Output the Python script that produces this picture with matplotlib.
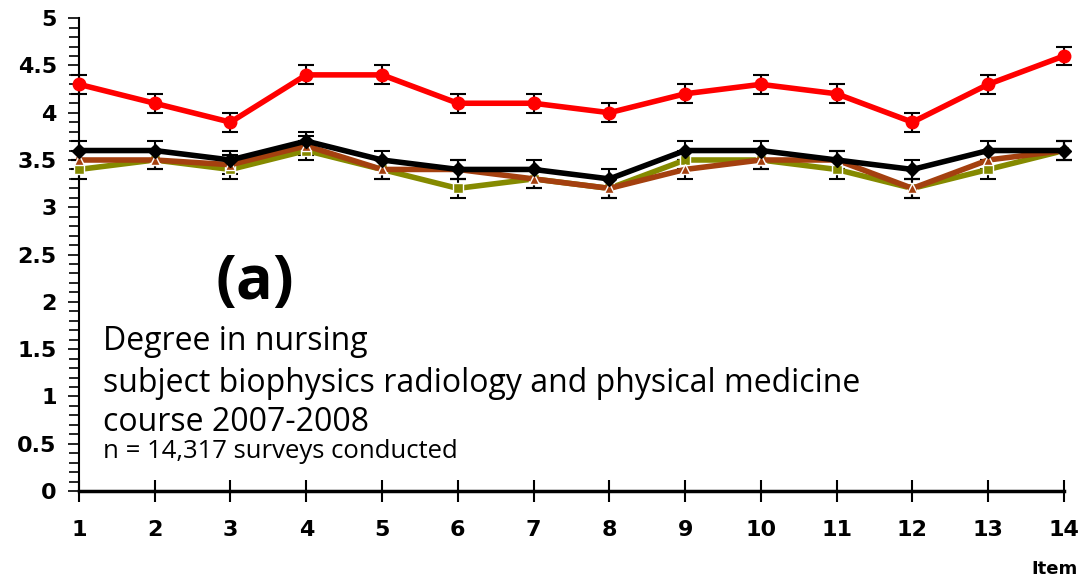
import numpy as np
import matplotlib.pyplot as plt
from matplotlib.ticker import MultipleLocator, FuncFormatter

items = list(range(1, 15))

# mean scores per item for the four groups
red_vals = [4.3, 4.1, 3.9, 4.4, 4.4, 4.1, 4.1, 4.0, 4.2, 4.3, 4.2, 3.9, 4.3, 4.6]
black_vals = [3.6, 3.6, 3.5, 3.7, 3.5, 3.4, 3.4, 3.3, 3.6, 3.6, 3.5, 3.4, 3.6, 3.6]
brown_vals = [3.5, 3.5, 3.45, 3.65, 3.4, 3.4, 3.3, 3.2, 3.4, 3.5, 3.5, 3.2, 3.5, 3.6]
olive_vals = [3.4, 3.5, 3.4, 3.6, 3.4, 3.2, 3.3, 3.2, 3.5, 3.5, 3.4, 3.2, 3.4, 3.6]
err = 0.1

fig = plt.figure(figsize=(10.89, 5.85), dpi=100)
ax = fig.add_axes([0.0725, 0.1607, 0.9045, 0.8083])

series = [
    (olive_vals, '#858a00', 's', 7),
    (brown_vals, '#a4400f', '^', 7),
    (black_vals, 'black', 'D', 7),
    (red_vals, '#ff0000', 'o', 9),
]
for vals, col, mk, ms in series:
    ax.errorbar(items, vals, yerr=err, fmt='none', ecolor='black', elinewidth=1.5,
                capsize=6, capthick=1.5, clip_on=False, zorder=2)
    ax.plot(items, vals, color=col, lw=4, marker=mk, ms=ms, mfc=col,
            mec='white' if mk in ('s', '^') else col, mew=1, clip_on=False, zorder=3)

ax.set_xlim(1, 14)
ax.set_ylim(0, 5)
ax.set_xticks(items)
ax.yaxis.set_major_locator(MultipleLocator(0.5))
ax.yaxis.set_minor_locator(MultipleLocator(0.1))
ax.yaxis.set_major_formatter(FuncFormatter(lambda v, p: f'{v:g}'))

for s in ['top', 'right']:
    ax.spines[s].set_visible(False)
ax.spines['bottom'].set_linewidth(2.5)
ax.spines['left'].set_linewidth(1.5)

ax.tick_params(axis='x', direction='inout', length=16, width=1.5, pad=13)
ax.tick_params(axis='y', which='major', direction='out', length=8, width=1.2, pad=8)
ax.tick_params(axis='y', which='minor', direction='out', length=7, width=1.2)
for lbl in ax.get_xticklabels() + ax.get_yticklabels():
    lbl.set_fontfamily('DejaVu Sans')
    lbl.set_fontweight('bold')
    lbl.set_fontsize(16)

fig.text(0.99, 0.012, 'Item', fontfamily='DejaVu Sans', fontweight='bold',
         fontsize=13, ha='right', va='bottom')

ax.text(2.8, 2.03, '(a)', fontfamily='Open Sans', fontweight='bold', fontsize=44,
        ha='left', va='baseline')
ax.text(1.32, 1.49, 'Degree in nursing', fontfamily='Open Sans', fontsize=23, va='baseline')
ax.text(1.32, 1.05, 'subject biophysics radiology and physical medicine',
        fontfamily='Open Sans', fontsize=23, va='baseline')
ax.text(1.32, 0.63, 'course 2007-2008', fontfamily='Open Sans', fontsize=23, va='baseline')
ax.text(1.32, 0.35, 'n = 14,317 surveys conducted', fontfamily='Open Sans', fontsize=18.5,
        va='baseline')

fig.savefig('out.png', dpi=100)
